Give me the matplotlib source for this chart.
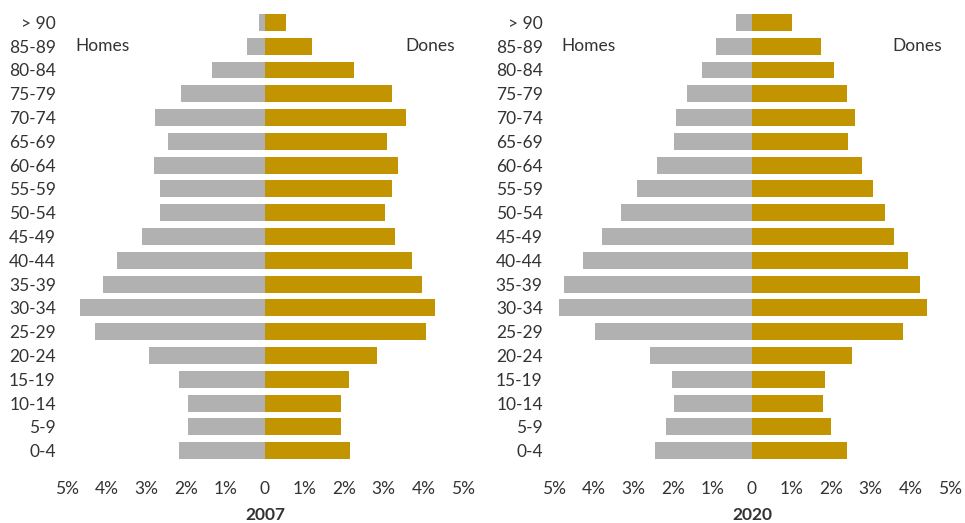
import matplotlib
matplotlib.use("Agg")
import matplotlib.pyplot as plt
import numpy as np

plt.rcParams['font.family'] = ['Lato', 'DejaVu Sans']

ages = ["> 90", "85-89", "80-84", "75-79", "70-74", "65-69", "60-64", "55-59",
        "50-54", "45-49", "40-44", "35-39", "30-34", "25-29", "20-24", "15-19",
        "10-14", "5-9", "0-4"]

men_2007 = [0.15, 0.46, 1.35, 2.13, 2.77, 2.46, 2.81, 2.66, 2.66, 3.10, 3.73,
            4.09, 4.67, 4.29, 2.92, 2.16, 1.94, 1.94, 2.16]
women_2007 = [0.52, 1.18, 2.24, 3.21, 3.57, 3.09, 3.37, 3.21, 3.04, 3.29, 3.72,
              3.97, 4.30, 4.07, 2.84, 2.11, 1.92, 1.92, 2.15]
men_2020 = [0.40, 0.91, 1.26, 1.64, 1.92, 1.97, 2.40, 2.90, 3.31, 3.79, 4.27,
            4.75, 4.87, 3.96, 2.58, 2.02, 1.97, 2.17, 2.45]
women_2020 = [1.01, 1.74, 2.07, 2.40, 2.60, 2.42, 2.78, 3.06, 3.36, 3.59, 3.94,
              4.24, 4.42, 3.81, 2.52, 1.84, 1.79, 1.99, 2.40]

years = ["2007", "2020"]
xticks = [-5, -4, -3, -2, -1, 0, 1, 2, 3, 4, 5]
xtick_labels = ["5%", "4%", "3%", "2%", "1%", "0", "1%", "2%", "3%", "4%", "5%"]

GRAY = "#b1b1b1"
GOLD = "#c29500"
TXT = "#333333"
FS = 12.5

fig = plt.figure(figsize=(9.65, 5.23), dpi=100)
positions = [[0.0694, 0.1155, 0.4104, 0.8645], [0.574, 0.1155, 0.4104, 0.8645]]
data = [(men_2007, women_2007), (men_2020, women_2020)]

for pos, (men, women), year in zip(positions, data, years):
    ax = fig.add_axes(pos)
    y = np.arange(len(ages))
    ax.barh(y, -np.array(men), height=0.71, color=GRAY, linewidth=0)
    ax.barh(y, women, height=0.71, color=GOLD, linewidth=0)
    ax.set_ylim(len(ages) - 0.5, -0.5)
    ax.set_xlim(-5, 5)
    ax.set_yticks(y)
    ax.set_yticklabels(ages, fontsize=FS, color=TXT)
    ax.set_xticks(xticks)
    ax.set_xticklabels(xtick_labels, fontsize=FS, color=TXT)
    ax.tick_params(axis='both', length=0)
    ax.tick_params(axis='x', pad=13)
    ax.tick_params(axis='y', pad=8)
    for s in ax.spines.values():
        s.set_visible(False)
    ax.text(-4.8, 1, "Homes", ha='left', va='center', fontsize=FS, color=TXT)
    ax.text(4.8, 1, "Dones", ha='right', va='center', fontsize=FS, color=TXT)
    ax.text(0, -0.115, year, transform=ax.get_xaxis_transform(), ha='center',
            va='center', fontsize=FS, fontweight='bold', color=TXT)

fig.savefig("out.png", dpi=100)
